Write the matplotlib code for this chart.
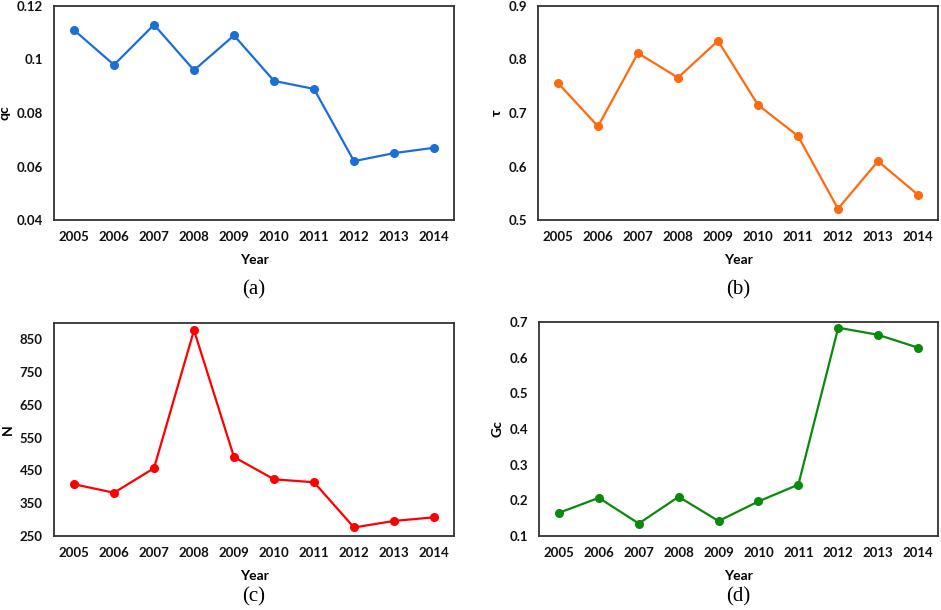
import matplotlib.pyplot as plt

# Datos
years = ['2005', '2006', '2007', '2008', '2009', '2010', '2011', '2012', '2013', '2014']
qc = [0.111, 0.098, 0.113, 0.096, 0.109, 0.092, 0.089, 0.062, 0.065, 0.067]
tau = [0.756, 0.675, 0.812, 0.766, 0.835, 0.715, 0.657, 0.521, 0.610, 0.547]
n_vals = [408, 382, 457, 878, 491, 423, 414, 276, 296, 307]
gc = [0.165, 0.207, 0.135, 0.210, 0.142, 0.197, 0.244, 0.684, 0.664, 0.628]

fig = plt.figure(figsize=(9.41, 6.10), dpi=100)
W, H = 941, 610


def panel(box, values, color, ylabel, ylim, yticks, yticklabels, caption, cap_y):
    left, top, right, bottom = box
    ax = fig.add_axes([left / W, 1 - bottom / H, (right - left) / W, (bottom - top) / H])
    x = list(range(len(years)))
    ax.plot(x, values, color=color, linewidth=1.6, marker='o', markersize=5.5)
    ax.set_xlim(-0.5, len(years) - 0.5)
    ax.set_ylim(*ylim)
    ax.set_xticks(x)
    ax.set_xticklabels(years)
    ax.set_yticks(yticks)
    ax.set_yticklabels(yticklabels)
    ax.tick_params(length=0, pad=8, labelsize=9.5, labelcolor='#111111')
    for lab in ax.get_xticklabels() + ax.get_yticklabels():
        lab.set_fontweight('bold')
        lab.set_family('Lato')
    for s in ax.spines.values():
        s.set_color('#333333')
        s.set_linewidth(1.3)
    ax.set_xlabel('Year', fontsize=10, fontweight='bold', family='Lato', labelpad=8)
    ax.set_ylabel(ylabel, fontsize=10, fontweight='bold', family='Lato', labelpad=4)
    cx = (left + right) / 2 / W
    fig.text(cx, 1 - cap_y / H, caption, ha='center', va='center',
             fontsize=15, family='Liberation Serif')
    return ax


panel((54, 6, 454, 220), qc, '#1a6fd6', 'qc', (0.04, 0.12),
      [0.04, 0.06, 0.08, 0.1, 0.12], ['0.04', '0.06', '0.08', '0.1', '0.12'], '(a)', 290)
panel((538, 6, 938, 220), tau, '#ff6a0d', 'τ', (0.5, 0.9),
      [0.5, 0.6, 0.7, 0.8, 0.9], ['0.5', '0.6', '0.7', '0.8', '0.9'], '(b)', 290)
panel((54, 323, 454, 536), n_vals, '#ff0000', 'N', (250, 900),
      [250, 350, 450, 550, 650, 750, 850], ['250', '350', '450', '550', '650', '750', '850'], '(c)', 597)
panel((539, 322, 938, 536), gc, '#0a8a0a', 'Gc', (0.1, 0.7),
      [0.1, 0.2, 0.3, 0.4, 0.5, 0.6, 0.7], ['0.1', '0.2', '0.3', '0.4', '0.5', '0.6', '0.7'], '(d)', 597)

plt.savefig('out.png', dpi=100)
